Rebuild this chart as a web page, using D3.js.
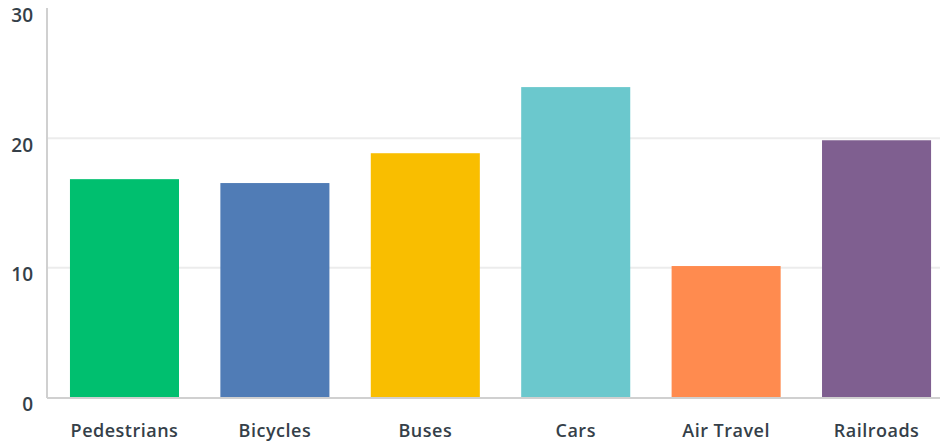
<!DOCTYPE html>
<html>
<head>
<meta charset="utf-8">
<script src="https://cdn.jsdelivr.net/npm/d3@7"></script>
<style>
  body { margin: 0; background: #fff; }
  text { font-family: "Open Sans", sans-serif; font-weight: 600; fill: #353f49; }
</style>
</head>
<body>
<div id="chart"></div>
<script>
const categories = ["Pedestrians", "Bicycles", "Buses", "Cars", "Air Travel", "Railroads"]
const values = [16.8, 16.5, 18.8, 23.9, 10.1, 19.8]
const colors = ["#00bf6f", "#507cb6", "#f9be00", "#6bc8cd", "#ff8b4f", "#7f5f90"]
const yTicks = [0, 10, 20, 30]

const width = 940, height = 445
const margin = {top: 8, right: 0, bottom: 48, left: 47}

const svg = d3.create("svg")
    .attr("width", width)
    .attr("height", height)

const x = d3.scaleBand()
    .domain(categories)
    .range([margin.left, width - margin.right])
    .paddingInner(0.275)
    .paddingOuter(0.106)
    .align(0.72)

const y = d3.scaleLinear()
    .domain([0, 30])
    .range([height - margin.bottom, margin.top])

// gridlines
svg.append("g")
  .selectAll("line")
  .data(yTicks.filter(d => d > 0 && d < 30))
  .join("line")
    .attr("x1", margin.left)
    .attr("x2", width)
    .attr("y1", d => y(d) + 0.5)
    .attr("y2", d => y(d) + 0.5)
    .attr("stroke", "#ececec")
    .attr("stroke-width", 2)

svg.append("g")
  .selectAll("rect")
  .data(values)
  .join("rect")
    .attr("x", (d, i) => x(categories[i]))
    .attr("y", d => y(d))
    .attr("width", x.bandwidth())
    .attr("height", d => y(0) - y(d))
    .attr("fill", (d, i) => colors[i])

// axis lines
svg.append("line")
    .attr("x1", margin.left).attr("x2", margin.left)
    .attr("y1", y(30)).attr("y2", y(0) + 1)
    .attr("stroke", "#d0d0d0").attr("stroke-width", 2)
svg.append("line")
    .attr("x1", margin.left).attr("x2", width)
    .attr("y1", y(0) + 1).attr("y2", y(0) + 1)
    .attr("stroke", "#d0d0d0").attr("stroke-width", 2)

// y tick labels
svg.append("g")
  .selectAll("text")
  .data(yTicks)
  .join("text")
    .attr("x", 33)
    .attr("y", d => y(d) + 14)
    .attr("text-anchor", "end")
    .attr("font-size", 19)
    .text(d => d)

// category labels
svg.append("g")
  .selectAll("text")
  .data(categories)
  .join("text")
    .attr("x", d => x(d) + x.bandwidth() / 2)
    .attr("y", 437)
    .attr("text-anchor", "middle")
    .attr("font-size", 18)
    .attr("letter-spacing", 0.5)
    .text(d => d)

d3.select("#chart").node().appendChild(svg.node())
</script>
</body>
</html>
